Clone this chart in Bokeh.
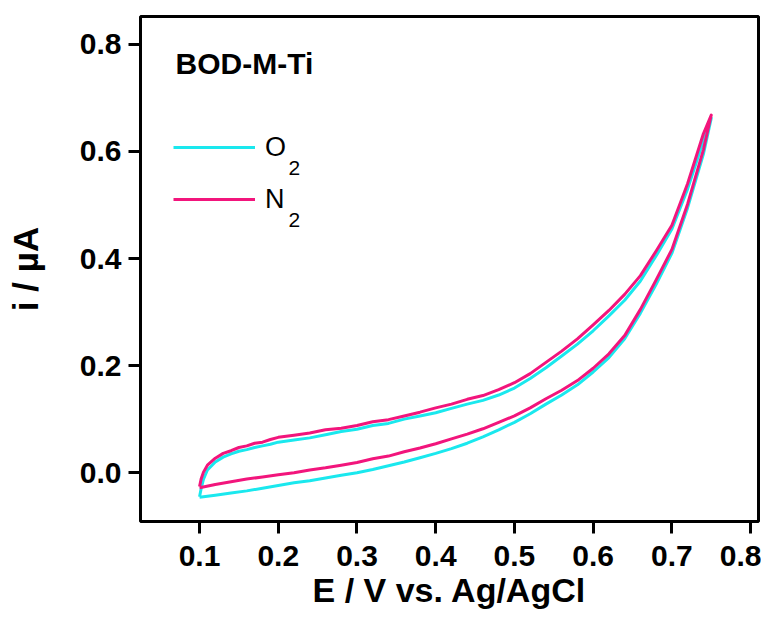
from bokeh.plotting import figure
from bokeh.models import Range1d, Legend, LegendItem, Label, FixedTicker, PrintfTickFormatter
from bokeh.embed import file_html
from bokeh.resources import INLINE

# ---- data ----
E_fwd = [0.100, 0.102, 0.105, 0.110, 0.120, 0.130, 0.140, 0.150, 0.160, 0.170,
         0.180, 0.190, 0.200, 0.220, 0.240, 0.260, 0.280, 0.300, 0.320, 0.340,
         0.360, 0.380, 0.400, 0.420, 0.440, 0.460, 0.480, 0.500, 0.520, 0.540,
         0.560, 0.580, 0.600, 0.620, 0.640, 0.660, 0.680, 0.700, 0.720, 0.740, 0.750]
E_rev = [0.750, 0.740, 0.720, 0.700, 0.680, 0.660, 0.640, 0.620, 0.600, 0.580,
         0.560, 0.540, 0.520, 0.500, 0.480, 0.460, 0.440, 0.420, 0.400, 0.380,
         0.360, 0.340, 0.320, 0.300, 0.280, 0.260, 0.240, 0.220, 0.200, 0.180,
         0.160, 0.140, 0.120, 0.100]

i_O2_fwd = [-0.045, -0.030, -0.012, 0.005, 0.020, 0.029, 0.035, 0.040, 0.043, 0.047,
            0.050, 0.053, 0.057, 0.061, 0.065, 0.071, 0.077, 0.081, 0.088, 0.092,
            0.100, 0.106, 0.112, 0.120, 0.128, 0.135, 0.145, 0.158, 0.176, 0.196,
            0.218, 0.240, 0.265, 0.293, 0.322, 0.358, 0.405, 0.455, 0.530, 0.620, 0.662]
i_O2_rev = [0.662, 0.595, 0.495, 0.410, 0.352, 0.298, 0.250, 0.215, 0.188, 0.164,
            0.145, 0.128, 0.110, 0.094, 0.080, 0.067, 0.055, 0.045, 0.036, 0.028,
            0.020, 0.013, 0.006, 0.000, -0.005, -0.010, -0.015, -0.019, -0.024, -0.029,
            -0.034, -0.038, -0.042, -0.046]

i_N2_fwd = [-0.026, -0.012, 0.001, 0.014, 0.027, 0.036, 0.041, 0.047, 0.050, 0.055,
            0.057, 0.062, 0.066, 0.070, 0.074, 0.080, 0.083, 0.088, 0.095, 0.099,
            0.106, 0.113, 0.121, 0.128, 0.137, 0.144, 0.155, 0.168, 0.185, 0.206,
            0.227, 0.250, 0.276, 0.303, 0.333, 0.368, 0.414, 0.462, 0.540, 0.633, 0.668]
i_N2_rev = [0.668, 0.603, 0.502, 0.417, 0.360, 0.305, 0.256, 0.222, 0.195, 0.172,
            0.154, 0.138, 0.121, 0.106, 0.094, 0.082, 0.072, 0.063, 0.054, 0.046,
            0.039, 0.031, 0.026, 0.019, 0.014, 0.009, 0.005, 0.000, -0.004, -0.008,
            -0.012, -0.017, -0.022, -0.028]

x_ticks = [0.1, 0.2, 0.3, 0.4, 0.5, 0.6, 0.7, 0.8]
y_ticks = [0.0, 0.2, 0.4, 0.6, 0.8]
series_names = ["O", "N"]
series_sub = "2"
sample_name = "BOD-M-Ti"
x_label = "E / V vs. Ag/AgCl"
y_label = "i / \u00b5A"

COL_O2 = "#1ae8ee"
COL_N2 = "#f2157c"
FONT = "Liberation Sans"

p = figure(width=761, height=611,
           x_range=Range1d(0.025, 0.810), y_range=Range1d(-0.0912, 0.852),
           output_backend="svg", toolbar_location=None,
           min_border_left=140, min_border_right=3, min_border_top=16, min_border_bottom=88)
p.background_fill_color = "white"
p.border_fill_color = "white"
p.outline_line_color = "black"
p.outline_line_width = 3
p.xgrid.visible = False
p.ygrid.visible = False

r_o2 = p.line(E_fwd + E_rev, i_O2_fwd + i_O2_rev, line_color=COL_O2, line_width=3, line_join="round")
r_n2 = p.line(E_fwd + E_rev, i_N2_fwd + i_N2_rev, line_color=COL_N2, line_width=3, line_join="round")

for ax in (p.xaxis[0], p.yaxis[0]):
    ax.axis_line_color = None
    ax.major_tick_line_color = "black"
    ax.major_tick_line_width = 3
    ax.major_tick_out = 12
    ax.major_tick_in = 0
    ax.minor_tick_line_color = None
    ax.major_label_text_font = FONT
    ax.major_label_text_font_style = "bold"
    ax.major_label_text_font_size = "30px"
    ax.major_label_text_color = "black"
    ax.axis_label_text_font = FONT
    ax.axis_label_text_font_style = "bold"
    ax.axis_label_text_color = "black"
    ax.formatter = PrintfTickFormatter(format="%.1f")

p.xaxis[0].ticker = FixedTicker(ticks=x_ticks)
p.yaxis[0].ticker = FixedTicker(ticks=y_ticks)
p.xaxis[0].major_label_standoff = 12
p.yaxis[0].major_label_standoff = 7
p.xaxis[0].axis_label = x_label
p.xaxis[0].axis_label_text_font_size = "34px"
p.xaxis[0].axis_label_standoff = 2
p.yaxis[0].axis_label = y_label
p.yaxis[0].axis_label_text_font_size = "35px"
p.yaxis[0].axis_label_standoff = 32

legend = Legend(items=[LegendItem(label=series_names[0], renderers=[r_o2]),
                       LegendItem(label=series_names[1], renderers=[r_n2])],
                location=(33, 298), orientation="vertical",
                glyph_width=82, glyph_height=48, label_height=48, spacing=4,
                label_standoff=10, padding=0, margin=0,
                border_line_color=None, background_fill_alpha=0,
                label_text_font=FONT, label_text_font_size="27px", label_text_color="black")
p.add_layout(legend)

for name_y in (0.5693, 0.4726):
    p.add_layout(Label(x=0.2131, y=name_y, text=series_sub, text_font=FONT,
                       text_font_size="21px", text_color="black", text_baseline="alphabetic"))

p.add_layout(Label(x=0.0695, y=0.7647, text=sample_name, text_font=FONT,
                   text_font_size="30px", text_font_style="bold", text_color="black",
                   text_baseline="alphabetic"))

open("out.html", "w").write(file_html(p, INLINE))
